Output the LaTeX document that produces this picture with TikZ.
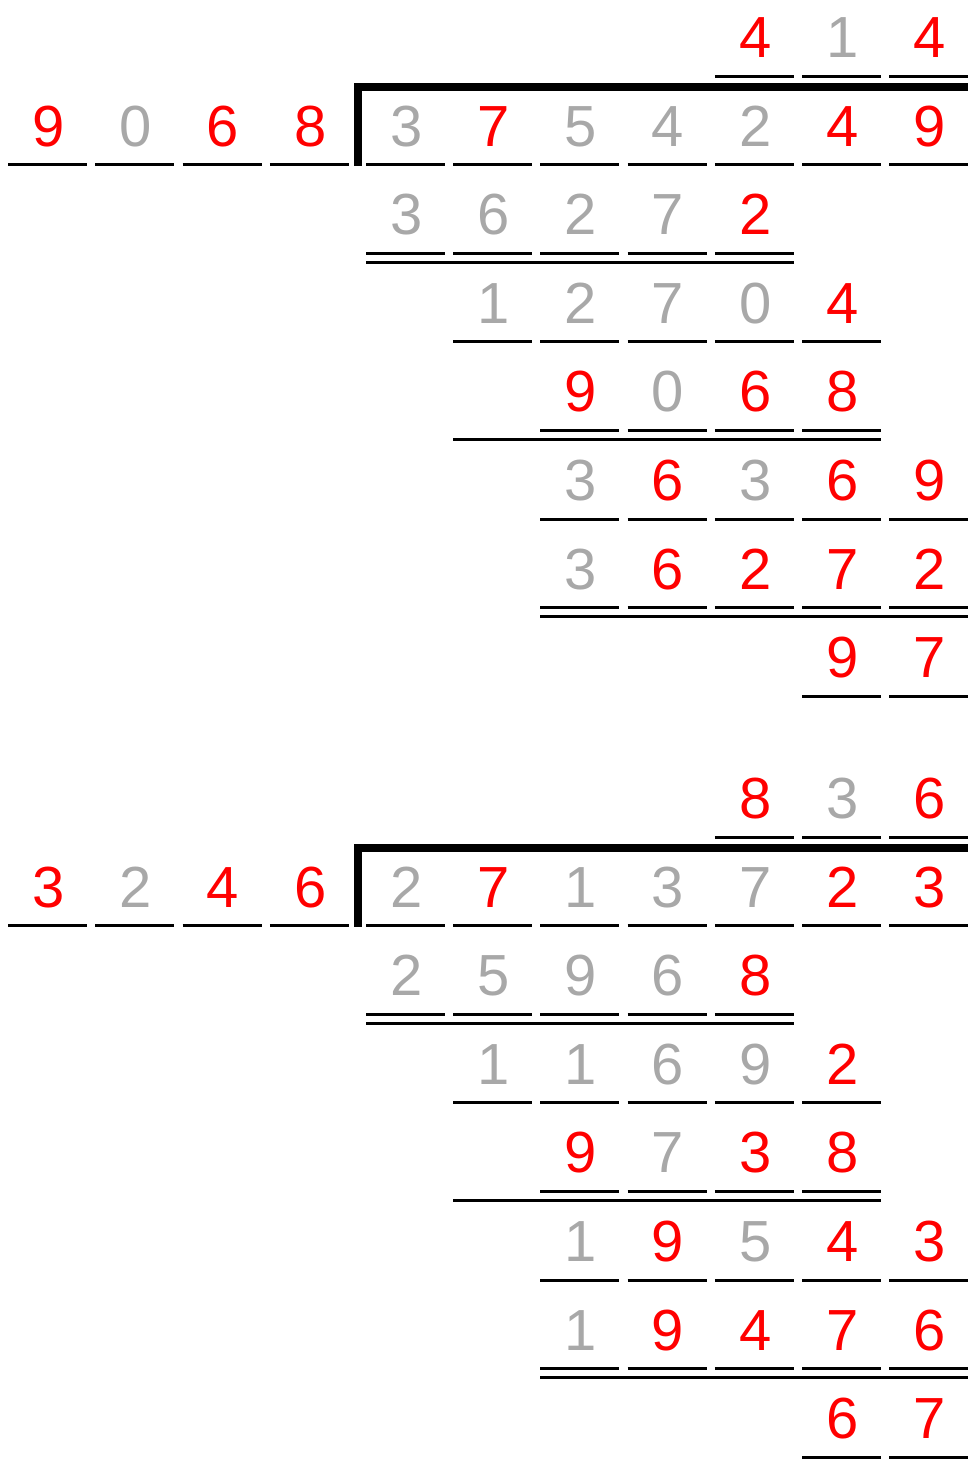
\documentclass[tikz,border=0pt]{standalone}
\usepackage{fontspec}
\setmainfont{Liberation Sans}
\usetikzlibrary{positioning}
\definecolor{DivRed}{RGB}{255,0,0}
\definecolor{DivGray}{RGB}{168,168,168}

\newcommand{\digitrow}[3]{%
  \foreach \cl/\d [count=\i from #2] in {#3} {
    \node[digit, \cl] (r#1c\i) at ({cx(\i)+40.5},{uy(#1)-18.5}) {\d};
    \draw[rule] ({cx(\i)},{uy(#1)}) -- ({cx(\i)+79},{uy(#1)});
  }}
\newcommand{\doublerule}[3]{%
  \draw[rule] ({cx(#2)},{uy(#1)+9}) -- ({cx(#3)+79},{uy(#1)+9});}
\newcommand{\divbar}{%
  \draw[bar] (357.5,165.5) -- (357.5,87) -- ({cx(10)+79},87);}

\begin{document}
\begin{tikzpicture}[x=0.5pt, y=-0.5pt,
    declare function={cx(\c)=(\c<4) ? (8+\c*87.3) : (366+(\c-4)*87.2); uy(\r)=76+\r*88.6;}]
  \tikzstyle{digit} = [inner sep=0pt, anchor=base, font=\fontsize{29}{29}\selectfont]
  \tikzstyle{sig} = [text=DivRed]
  \tikzstyle{aux} = [text=DivGray]
  \tikzstyle{rule} = [line width=1.5pt, black]
  \tikzstyle{bar} = [line width=4pt, black, miter limit=10]

  \useasboundingbox (0,0) rectangle (977,1473);

  \begin{scope}[name prefix=a-]
    \digitrow{0}{8}{sig/4, aux/1, sig/4}
    \divbar
    \digitrow{1}{0}{sig/9, aux/0, sig/6, sig/8}
    \digitrow{1}{4}{aux/3, sig/7, aux/5, aux/4, aux/2, sig/4, sig/9}
    \digitrow{2}{4}{aux/3, aux/6, aux/2, aux/7, sig/2}
    \doublerule{2}{4}{8}
    \digitrow{3}{5}{aux/1, aux/2, aux/7, aux/0, sig/4}
    \digitrow{4}{6}{sig/9, aux/0, sig/6, sig/8}
    \doublerule{4}{5}{9}
    \digitrow{5}{6}{aux/3, sig/6, aux/3, sig/6, sig/9}
    \digitrow{6}{6}{aux/3, sig/6, sig/2, sig/7, sig/2}
    \doublerule{6}{6}{10}
    \digitrow{7}{9}{sig/9, sig/7}
  \end{scope}

  \begin{scope}[name prefix=b-, shift={(0,761)}]
    \digitrow{0}{8}{sig/8, aux/3, sig/6}
    \divbar
    \digitrow{1}{0}{sig/3, aux/2, sig/4, sig/6}
    \digitrow{1}{4}{aux/2, sig/7, aux/1, aux/3, aux/7, sig/2, sig/3}
    \digitrow{2}{4}{aux/2, aux/5, aux/9, aux/6, sig/8}
    \doublerule{2}{4}{8}
    \digitrow{3}{5}{aux/1, aux/1, aux/6, aux/9, sig/2}
    \digitrow{4}{6}{sig/9, aux/7, sig/3, sig/8}
    \doublerule{4}{5}{9}
    \digitrow{5}{6}{aux/1, sig/9, aux/5, sig/4, sig/3}
    \digitrow{6}{6}{aux/1, sig/9, sig/4, sig/7, sig/6}
    \doublerule{6}{6}{10}
    \digitrow{7}{9}{sig/6, sig/7}
  \end{scope}
\end{tikzpicture}
\end{document}
